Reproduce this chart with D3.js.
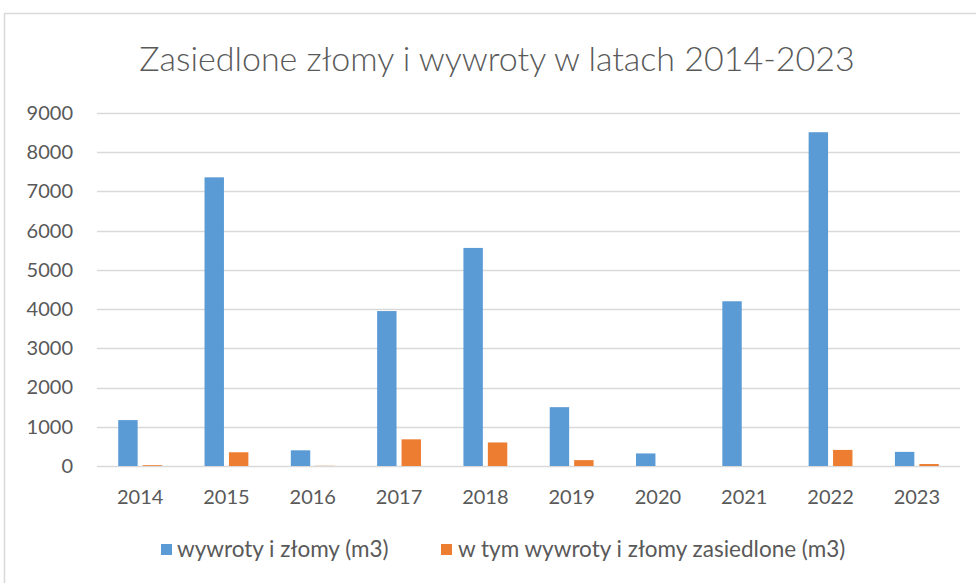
<!DOCTYPE html>
<html>
<head>
<meta charset="utf-8">
<script src="https://cdn.jsdelivr.net/npm/d3@7"></script>
<style>
  html, body { margin: 0; padding: 0; background: #fff; }
  svg { display: block; }
  text { font-family: Lato, "Open Sans", sans-serif; fill: #595959; }
</style>
</head>
<body>
<svg id="chart" width="976" height="583"></svg>
<script>
const years = ["2014","2015","2016","2017","2018","2019","2020","2021","2022","2023"];
const totalVolume = [1170, 7360, 400, 3950, 5560, 1500, 320, 4200, 8510, 360];
const colonizedVolume = [20, 350, 5, 680, 600, 150, 0, 0, 410, 50];
const yTicks = [0, 1000, 2000, 3000, 4000, 5000, 6000, 7000, 8000, 9000];
const seriesNames = ["wywroty i złomy (m3)", "w tym wywroty i złomy zasiedlone (m3)"];
const titleText = "Zasiedlone złomy i wywroty w latach 2014-2023";

const colors = ["#5B9BD5", "#ED7D31"];
const svg = d3.select("#chart");

// chart border
svg.append("rect").attr("x", 4.5).attr("y", 13.5).attr("width", 1000).attr("height", 1000)
  .attr("fill", "none").attr("stroke", "#D9D9D9").attr("stroke-width", 1.5);

const plotLeft = 97, plotRight = 960, plotTop = 113, plotBottom = 466;

const x = d3.scaleBand().domain(years).range([plotLeft, plotRight]);
const y = d3.scaleLinear().domain([0, 9000]).range([plotBottom, plotTop]);

// gridlines
svg.append("g").selectAll("line").data(yTicks).join("line")
  .attr("x1", plotLeft).attr("x2", plotRight)
  .attr("y1", d => Math.round(y(d)) + 0.5).attr("y2", d => Math.round(y(d)) + 0.5)
  .attr("stroke", "#D9D9D9").attr("stroke-width", 1.3);

// y axis labels
const yAxis = d3.axisLeft(y).tickValues(yTicks).tickSize(0).tickPadding(0).tickFormat(d3.format("d"));
const gy = svg.append("g").attr("transform", `translate(73,0)`).call(yAxis);
gy.select(".domain").remove();
gy.selectAll("text").attr("font-size", 20).attr("fill", "#595959").style("font-family", "Lato, sans-serif");

// x axis labels
const xAxis = d3.axisBottom(x).tickSize(0).tickPadding(0);
const gx = svg.append("g").attr("transform", `translate(0,490)`).call(xAxis);
gx.select(".domain").remove();
gx.selectAll("text").attr("font-size", 20).attr("fill", "#595959").style("font-family", "Lato, sans-serif");

// bars
const bw = x.bandwidth() * 0.225;
const gap = x.bandwidth() * 0.058;
const series = [totalVolume, colonizedVolume];
series.forEach((vals, si) => {
  svg.append("g").selectAll("rect").data(years).join("rect")
    .attr("x", (d) => x(d) + x.bandwidth() / 2 + (si === 0 ? -gap / 2 - bw : gap / 2))
    .attr("y", (d, i) => y(vals[i]))
    .attr("width", bw)
    .attr("height", (d, i) => y(0) - y(vals[i]))
    .attr("fill", colors[si]);
});

// title
svg.append("text").attr("x", 497).attr("y", 71).attr("text-anchor", "middle")
  .attr("font-size", 34).attr("font-weight", 300).text(titleText);

// legend
const legendItems = [{x: 161, tx: 177}, {x: 441, tx: 458}];
legendItems.forEach((it, i) => {
  svg.append("rect").attr("x", it.x).attr("y", 544).attr("width", 11).attr("height", 11).attr("fill", colors[i]);
  svg.append("text").attr("x", it.tx).attr("y", 557).attr("font-size", 22.5).text(seriesNames[i]);
});
</script>
</body>
</html>
